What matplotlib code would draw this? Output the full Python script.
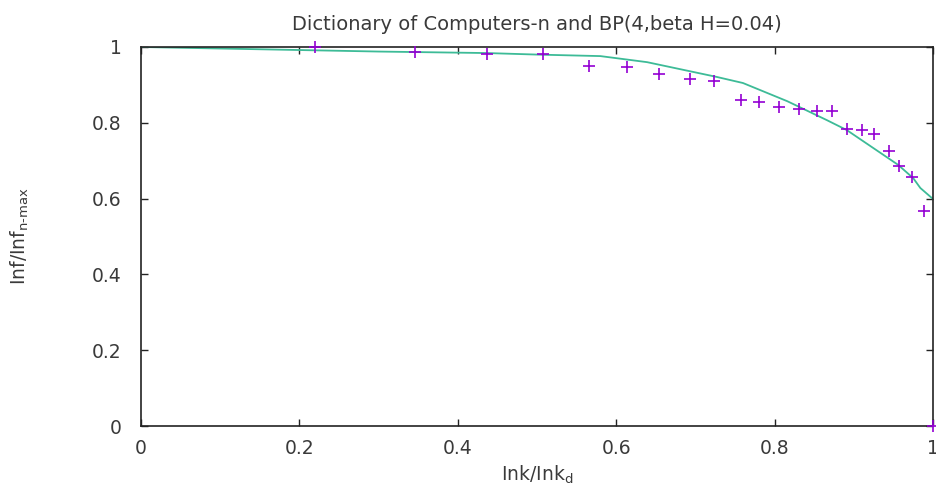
import matplotlib
matplotlib.use("Agg")
import matplotlib.pyplot as plt

# Data points (purple crosses)
pts_x = [0.220, 0.346, 0.437, 0.508, 0.566, 0.614, 0.654, 0.693, 0.723, 0.758,
         0.780, 0.806, 0.831, 0.854, 0.872, 0.891, 0.910, 0.926, 0.944, 0.957,
         0.973, 0.989, 1.000]
pts_y = [1.000, 0.987, 0.982, 0.982, 0.950, 0.947, 0.929, 0.916, 0.910, 0.860,
         0.855, 0.842, 0.836, 0.831, 0.831, 0.784, 0.781, 0.770, 0.726, 0.686,
         0.657, 0.567, 0.000]

# Model curve (green line)
line_x = [0.000, 0.100, 0.200, 0.300, 0.437, 0.500, 0.580, 0.639, 0.727, 0.760,
          0.816, 0.866, 0.891, 0.956, 0.975, 0.984, 1.000]
line_y = [1.000, 0.996, 0.992, 0.988, 0.984, 0.980, 0.976, 0.960, 0.921, 0.905,
          0.857, 0.807, 0.781, 0.689, 0.654, 0.628, 0.599]

title = "Dictionary of Computers-n and BP(4,beta H=0.04)"
xticks = [0, 0.2, 0.4, 0.6, 0.8, 1]
yticks = [0, 0.2, 0.4, 0.6, 0.8, 1]
tick_labels = ['0', '0.2', '0.4', '0.6', '0.8', '1']

plt.rcParams['font.family'] = ['DejaVu Sans']
fig = plt.figure(figsize=(9.37, 4.92), dpi=100)
ax = fig.add_axes([141/937, 1-426/492, (933-141)/937, (426-47)/492])

ax.plot(line_x, line_y, color='#3dbb97', lw=1.3, zorder=2)
ax.plot(pts_x, pts_y, linestyle='none', marker='+', color='#9400d3',
        markersize=9, markeredgewidth=1.2, zorder=3, clip_on=False)

ax.set_xlim(0, 1)
ax.set_ylim(0, 1)
ax.set_xticks(xticks)
ax.set_yticks(yticks)
ax.set_xticklabels(tick_labels)
ax.set_yticklabels(tick_labels)
ax.tick_params(direction='in', length=5, width=1, top=True, right=True,
               labelsize=13.5, colors='#222222', labelcolor='#3a3a3a')
ax.tick_params(axis='x', pad=9)
ax.tick_params(axis='y', pad=14)
for s in ax.spines.values():
    s.set_linewidth(1.2)
    s.set_color('#222222')

ax.set_title(title, fontsize=14, color='#3a3a3a', pad=12)
ax.set_xlabel(r'Ink/Ink$_{\mathregular{d}}$', fontsize=13.5, color='#3a3a3a')
ax.set_ylabel(r'Inf/Inf$_{\mathregular{n\text{-}max}}$', fontsize=13.5, color='#3a3a3a')
ax.xaxis.set_label_coords(0.5, (426-464)/379)
ax.yaxis.set_label_coords((31-141)/792, 0.5)

fig.savefig('out.png', dpi=100)
